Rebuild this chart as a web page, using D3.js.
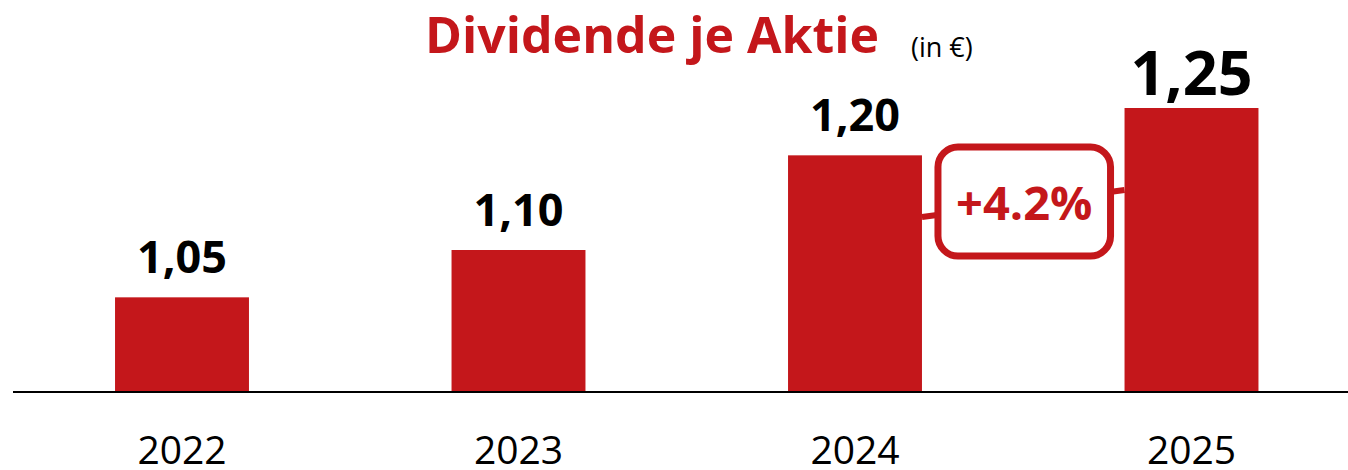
<!DOCTYPE html>
<html>
<head>
<meta charset="utf-8">
<script src="https://cdn.jsdelivr.net/npm/d3@7"></script>
<style>
  html, body { margin: 0; padding: 0; background: #fff; }
  svg { display: block; font-family: "Open Sans", "Noto Sans", sans-serif; }
</style>
</head>
<body>
<script>
const years = ["2022", "2023", "2024", "2025"];
const dividends = [1.05, 1.10, 1.20, 1.25];
const labels = ["1,05", "1,10", "1,20", "1,25"];
const title = "Dividende je Aktie";
const unit = "(in €)";

const width = 1348, height = 470;
const red = "#c4171b";
const baseY = 392;

const svg = d3.select("body")
  .append("svg")
  .attr("width", width)
  .attr("height", height);

const x = d3.scaleBand()
  .domain(years)
  .range([13.75, 13.75 + 4 * 336.5])
  .paddingInner(0.602)
  .paddingOuter(0.301);

const y = d3.scaleLinear()
  .domain([0.95, 1.25])
  .range([baseY, 108]);

// title
svg.append("text")
  .attr("x", 425)
  .attr("y", 53)
  .attr("fill", red)
  .attr("font-weight", 700)
  .attr("font-size", 50)
  .text(title);

svg.append("text")
  .attr("x", 911)
  .attr("y", 57)
  .attr("fill", "#000")
  .attr("font-size", 27)
  .text(unit);

// bars
svg.selectAll("rect.bar")
  .data(dividends)
  .enter()
  .append("rect")
  .attr("class", "bar")
  .attr("x", (d, i) => x(years[i]))
  .attr("y", d => y(d))
  .attr("width", x.bandwidth())
  .attr("height", d => baseY - y(d))
  .attr("fill", red);

// value labels
const last = dividends.length - 1;
svg.selectAll("text.val")
  .data(dividends)
  .enter()
  .append("text")
  .attr("class", "val")
  .attr("x", (d, i) => x(years[i]) + x.bandwidth() / 2)
  .attr("y", (d, i) => y(d) - (i === last ? 13 : 24))
  .attr("text-anchor", "middle")
  .attr("font-weight", 700)
  .attr("font-size", (d, i) => i === last ? 61 : 45)
  .attr("fill", "#000")
  .text((d, i) => labels[i]);

// baseline
svg.append("line")
  .attr("x1", 13)
  .attr("x2", width)
  .attr("y1", baseY)
  .attr("y2", baseY)
  .attr("stroke", "#000")
  .attr("stroke-width", 2);

// year labels
const xAxis = d3.axisBottom(x).tickSize(0).tickPadding(0);
const ax = svg.append("g")
  .attr("transform", `translate(0,${baseY})`)
  .call(xAxis);
ax.select(".domain").remove();
ax.selectAll("text")
  .attr("dy", null)
  .attr("y", 72)
  .attr("font-family", "Open Sans, Noto Sans, sans-serif")
  .attr("font-size", 39)
  .attr("fill", "#000");

// growth callout between the last two bars
const prev = dividends[last - 1], cur = dividends[last];
const growth = "+" + ((cur / prev - 1) * 100).toFixed(1) + "%";
const x1 = x(years[last - 1]) + x.bandwidth();
const x2 = x(years[last]);

svg.append("line")
  .attr("x1", x1).attr("y1", 217)
  .attr("x2", x2).attr("y2", 190)
  .attr("stroke", red)
  .attr("stroke-width", 6);

svg.append("rect")
  .attr("x", x1 + 16)
  .attr("y", 147)
  .attr("width", x2 - x1 - 30)
  .attr("height", 109)
  .attr("rx", 20)
  .attr("fill", "#fff")
  .attr("stroke", red)
  .attr("stroke-width", 7);

svg.append("text")
  .attr("x", x1 + 16 + (x2 - x1 - 30) / 2)
  .attr("y", 220)
  .attr("text-anchor", "middle")
  .attr("fill", red)
  .attr("font-weight", 700)
  .attr("font-size", 47)
  .text(growth);
</script>
</body>
</html>
